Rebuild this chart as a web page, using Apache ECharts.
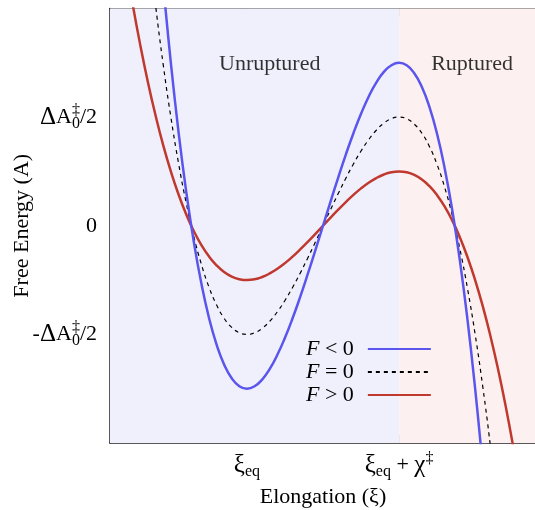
<!DOCTYPE html>
<html>
<head>
<meta charset="utf-8">
<script src="https://cdn.jsdelivr.net/npm/echarts@6/dist/echarts.min.js"></script>
<style>html,body{margin:0;padding:0;background:#fff}#c{width:535px;height:510px}</style>
</head>
<body>
<div id="c"></div>
<script>
// Elongation sample positions (xi, in units where xi_eq = 1, xi_eq + chi = 2)
const xs = [0.10,0.15,0.20,0.25,0.30,0.35,0.40,0.45,0.50,0.55,0.60,0.65,0.70,0.75,0.80,0.85,0.90,0.95,1.00,1.05,1.10,1.15,1.20,1.25,1.30,1.35,1.40,1.45,1.50,1.55,1.60,1.65,1.70,1.75,1.80,1.85,1.90,1.95,2.00,2.05,2.10,2.15,2.20,2.25,2.30,2.35,2.40,2.45,2.50,2.55,2.60,2.65,2.70,2.75,2.80,2.85,2.90];
// Free energy, in units of dA0/2
const fNeg = [10.164,8.688,7.332,6.094,4.968,3.951,3.036,2.221,1.500,0.869,0.324,-0.140,-0.528,-0.844,-1.092,-1.277,-1.404,-1.477,-1.500,-1.478,-1.416,-1.318,-1.188,-1.031,-0.852,-0.655,-0.444,-0.224,0,0.224,0.444,0.655,0.852,1.031,1.188,1.318,1.416,1.478,1.500,1.477,1.404,1.277,1.092,0.844,0.528,0.140,-0.324,-0.869,-1.500,-2.221,-3.036,-3.951,-4.968,-6.094,-7.332,-8.688,-10.164];
const fZero = [6.776,5.792,4.888,4.063,3.312,2.634,2.024,1.481,1.000,0.580,0.216,-0.094,-0.352,-0.563,-0.728,-0.852,-0.936,-0.985,-1.000,-0.986,-0.944,-0.879,-0.792,-0.688,-0.568,-0.437,-0.296,-0.150,0,0.150,0.296,0.437,0.568,0.688,0.792,0.879,0.944,0.986,1.000,0.985,0.936,0.852,0.728,0.563,0.352,0.094,-0.216,-0.580,-1.000,-1.481,-2.024,-2.634,-3.312,-4.063,-4.888,-5.792,-6.776];
const fPos = [3.388,2.896,2.444,2.031,1.656,1.317,1.012,0.740,0.500,0.290,0.108,-0.047,-0.176,-0.281,-0.364,-0.426,-0.468,-0.492,-0.500,-0.493,-0.472,-0.439,-0.396,-0.344,-0.284,-0.218,-0.148,-0.075,0,0.075,0.148,0.218,0.284,0.344,0.396,0.439,0.472,0.493,0.500,0.492,0.468,0.426,0.364,0.281,0.176,0.047,-0.108,-0.290,-0.500,-0.740,-1.012,-1.317,-1.656,-2.031,-2.444,-2.896,-3.388];
const seriesNames = ['{i|F} < 0', '{i|F} = 0', '{i|F} > 0'];
const xTicks = [1, 2];
const xTickLabels = ['{g|ξ}{sub|eq}', '{g|ξ}{sub|eq} + {g|χ}{sup|‡}'];
const yTicks = [-1, 0, 1];
const yTickLabels = ['-{g|Δ}A{sub|0}{sup0|‡}/2', '0', '{g|Δ}A{sub|0}{sup0|‡}/2'];
const regions = [{name: 'Unruptured', from: 0.1, to: 2.0, labelX: 1.15, labelY: 1.49},
                 {name: 'Ruptured', from: 2.0, to: 2.9, labelX: 2.48, labelY: 1.49}];

const FONT = 'Liberation Serif';
const rich = {
  g: {fontFamily: FONT, fontSize: 25, color: '#000'},
  sub: {fontFamily: FONT, fontSize: 16, color: '#000', padding: [13, 0, 0, 0]},
  sup: {fontFamily: FONT, fontSize: 16, color: '#000', padding: [0, 0, 13, 0]},
  sup0: {fontFamily: FONT, fontSize: 16, color: '#000', padding: [0, 0, 13, 0], width: 0.01, align: 'right'},
  i: {fontFamily: FONT, fontSize: 22, fontStyle: 'italic', color: '#000'}
};
const pairs = arr => xs.map((x, i) => [x, arr[i]]);

const chart = echarts.init(document.getElementById('c'));
chart.setOption({
  animation: false,
  backgroundColor: '#fff',
  textStyle: {fontFamily: FONT},
  grid: {left: 110, top: 8.5, right: -1, bottom: 67, outerBoundsMode: 'none', containLabel: false},
  legend: {
    orient: 'vertical', left: 301, top: 333, align: 'right',
    itemWidth: 63, itemHeight: 14, itemGap: 1,
    data: seriesNames,
    itemStyle: {opacity: 0},
    textStyle: {fontFamily: FONT, fontSize: 22, color: '#000', lineHeight: 21, padding: [0, 9, 0, 0], rich: rich}
  },
  xAxis: [{
    type: 'value', min: 0.1, max: 2.9, position: 'bottom',
    name: 'Elongation (ξ)', nameLocation: 'middle', nameGap: 43, nameMoveOverlap: false,
    nameTextStyle: {fontFamily: FONT, fontSize: 22, color: '#000'},
    axisLine: {show: true, onZero: false, lineStyle: {color: '#222', width: 1.5}},
    axisTick: {show: true, inside: true, length: 8, customValues: xTicks, lineStyle: {color: '#444', width: 1}},
    axisLabel: {show: true, customValues: xTicks, margin: 8, fontFamily: FONT, fontSize: 22, color: '#000', rich: rich,
      formatter: v => xTickLabels[xTicks.indexOf(v)]},
    splitLine: {show: false}
  }, {
    type: 'value', min: 0.1, max: 2.9, position: 'top',
    axisLine: {show: true, onZero: false, lineStyle: {color: '#222', width: 1.5}},
    axisTick: {show: true, inside: true, length: 8, customValues: xTicks, lineStyle: {color: '#444', width: 1}},
    axisLabel: {show: false}, splitLine: {show: false}
  }],
  yAxis: [{
    type: 'value', min: -2, max: 2, position: 'left',
    name: 'Free Energy (A)', nameLocation: 'middle', nameGap: 77, nameRotate: 90, nameMoveOverlap: false,
    nameTextStyle: {fontFamily: FONT, fontSize: 22, color: '#000'},
    axisLine: {show: true, onZero: false, lineStyle: {color: '#222', width: 1.5}},
    axisTick: {show: true, inside: true, length: 8, customValues: yTicks, lineStyle: {color: '#444', width: 1}},
    axisLabel: {show: true, customValues: yTicks, margin: 13, fontFamily: FONT, fontSize: 22, color: '#000', rich: rich,
      formatter: v => yTickLabels[yTicks.indexOf(v)]},
    splitLine: {show: false}
  }],
  series: [
    {
      name: seriesNames[0], type: 'line', data: pairs(fNeg), smooth: true, symbol: 'none', clip: true, z: 4,
      lineStyle: {color: '#5a55ec', width: 2.5}, itemStyle: {color: '#5a55ec'},
      markArea: {silent: true, data: [
        [{xAxis: regions[0].from, itemStyle: {color: '#f0f0fc'}}, {xAxis: regions[0].to}],
        [{xAxis: regions[1].from, itemStyle: {color: '#fdf0f0'}}, {xAxis: regions[1].to}]
      ]}
    },
    {
      name: seriesNames[1], type: 'line', data: pairs(fZero), smooth: true, symbol: 'none', clip: true, z: 3,
      lineStyle: {color: '#000', width: 1.2, type: [4, 4]}, itemStyle: {color: '#000'}
    },
    {
      name: seriesNames[2], type: 'line', data: pairs(fPos), smooth: true, symbol: 'none', clip: true, z: 3,
      lineStyle: {color: '#c0392e', width: 2.5}, itemStyle: {color: '#c0392e'}
    },
    {
      type: 'scatter', symbolSize: 0, silent: true, z: 5,
      data: regions.map(r => ({value: [r.labelX, r.labelY], name: r.name})),
      label: {show: true, position: 'inside', formatter: p => p.name, fontFamily: FONT, fontSize: 22, color: '#000'}
    }
  ]
});
</script>
</body>
</html>
